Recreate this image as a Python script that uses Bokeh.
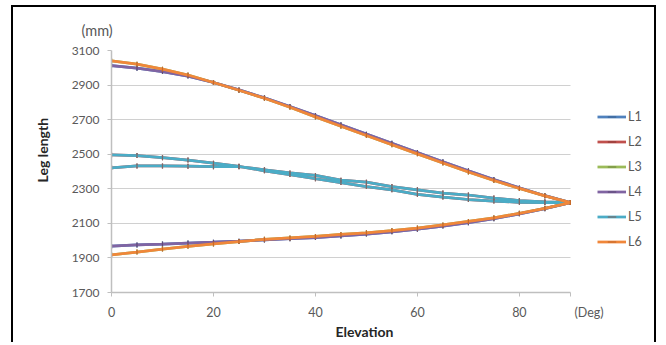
import math
from bokeh.plotting import figure
from bokeh.models import Range1d, FixedTicker, Legend, LegendItem, ColumnDataSource, Title
from bokeh.embed import file_html
from bokeh.resources import INLINE

# ---------------- data ----------------
ELEV = [0, 5, 10, 15, 20, 25, 30, 35, 40, 45, 50, 55, 60, 65, 70, 75, 80, 85, 90]

# each leg: branch read from 0->90 (upper) and branch read from 0->90 (lower); both meet at 90
L4_UPPER = [3013, 2998, 2978, 2952, 2915, 2872, 2826, 2776, 2724, 2670, 2616, 2563, 2510, 2456, 2404, 2354, 2305, 2260, 2220]
L4_LOWER = [1968, 1975, 1980, 1986, 1991, 1997, 2004, 2011, 2018, 2027, 2038, 2051, 2066, 2084, 2104, 2127, 2155, 2185, 2220]
L5_UPPER = [2496, 2492, 2480, 2466, 2448, 2430, 2404, 2382, 2358, 2336, 2313, 2294, 2268, 2252, 2238, 2229, 2222, 2220, 2220]
L5_LOWER = [2421, 2432, 2432, 2431, 2428, 2428, 2410, 2392, 2377, 2350, 2338, 2313, 2294, 2275, 2264, 2246, 2232, 2225, 2220]
L6_UPPER = [3040, 3021, 2992, 2958, 2915, 2870, 2824, 2772, 2716, 2662, 2608, 2555, 2502, 2449, 2397, 2348, 2302, 2259, 2220]
L6_LOWER = [1918, 1934, 1951, 1967, 1981, 1995, 2008, 2016, 2024, 2036, 2045, 2058, 2073, 2091, 2111, 2132, 2158, 2187, 2220]

# L1-L3 lie exactly under L4-L6
L1_UPPER, L1_LOWER = L4_UPPER, L4_LOWER
L2_UPPER, L2_LOWER = L5_UPPER, L5_LOWER
L3_UPPER, L3_LOWER = L6_UPPER, L6_LOWER

SERIES = ["L1", "L2", "L3", "L4", "L5", "L6"]
Y_TICKS = [1700, 1900, 2100, 2300, 2500, 2700, 2900, 3100]
X_TICKS = [0, 20, 40, 60, 80, 90]
X_LABELS = {90: "\u2003\u2003\u2003\u2003(Deg)"}
X_DATA_MAX = 90          # end of the elevation axis
X_VIEW_MAX = 106.5       # visible area continues to the right (legend space)

COLORS = ["#4F81BD", "#C0504D", "#9BBB59", "#8064A2", "#4BACC6", "#F0873A"]
MARK_COLORS = ["#3A6496", "#8E3A38", "#738C42", "#5E4A78", "#7A6A6A", "#C86A2A"]

UPPERS = [L1_UPPER, L2_UPPER, L3_UPPER, L4_UPPER, L5_UPPER, L6_UPPER]
LOWERS = [L1_LOWER, L2_LOWER, L3_LOWER, L4_LOWER, L5_LOWER, L6_LOWER]

FONT = "Lato"
TICK_COLOR = "#595959"
TITLE_COLOR = "#262626"

p = figure(frame_width=543, frame_height=242, output_backend="svg", toolbar_location=None,
           x_range=Range1d(0, X_VIEW_MAX), y_range=Range1d(1700, 3100),
           min_border_left=94, min_border_right=0, min_border_top=39, min_border_bottom=50)
p.styles = {"border-top": "2px solid #000000", "border-left": "2px solid #000000",
            "border-right": "2px solid #000000", "box-sizing": "content-box",
            "margin-left": "11px", "margin-top": "5px"}
p.outline_line_color = None
p.background_fill_color = "white"
p.border_fill_color = "white"

# axes
p.xaxis.ticker = FixedTicker(ticks=X_TICKS)
p.xaxis.major_label_overrides = X_LABELS
p.xaxis.bounds = (0, X_DATA_MAX)
p.yaxis.ticker = FixedTicker(ticks=Y_TICKS)
for ax in (p.xaxis[0], p.yaxis[0]):
    ax.axis_line_color = "#BFBFBF"
    ax.axis_line_width = 1.5
    ax.major_tick_line_color = "#BFBFBF"
    ax.major_tick_out = 4
    ax.major_tick_in = 0
    ax.minor_tick_line_color = None
    ax.major_label_text_font = FONT
    ax.major_label_text_font_size = "12px"
    ax.major_label_text_color = TICK_COLOR
    ax.major_label_standoff = 8
p.xaxis.major_label_text_font_size = "12.5px"
p.xgrid.grid_line_color = None
yg = p.ygrid[0]
if "cross_bounds" in yg.properties():
    yg.grid_line_color = "#D0D0D0"
    yg.grid_line_width = 1.2
    yg.cross_bounds = (0, X_DATA_MAX)
else:
    yg.grid_line_color = None
    p.segment(x0=[0] * len(Y_TICKS), x1=[X_DATA_MAX] * len(Y_TICKS), y0=Y_TICKS, y1=Y_TICKS,
              line_color="#D0D0D0", line_width=1.2, level="underlay")

items = []
for i, name in enumerate(SERIES):
    up, lo = UPPERS[i], LOWERS[i]
    xs = ELEV + ELEV[-2::-1]
    ys = up + lo[-2::-1]
    src = ColumnDataSource(dict(x=xs, y=ys))
    r_line = p.line("x", "y", source=src, line_color=COLORS[i], line_width=2.75)
    r_mark = p.scatter("x", "y", source=src, marker="dash", size=5, angle=math.pi / 2,
                       line_color=MARK_COLORS[i], line_width=1.2)
    items.append(LegendItem(label=name, renderers=[r_line, r_mark]))

legend = Legend(items=items, location=(486, 40), padding=0, margin=0,
                glyph_width=29, glyph_height=21, label_height=21, spacing=4,
                label_standoff=2, border_line_color=None, background_fill_alpha=0,
                label_text_font=FONT, label_text_font_size="12.5px", label_text_color=TICK_COLOR)
p.add_layout(legend, "center")

# titles / units
p.add_layout(Title(text="(mm)", align="left", offset=-30, standoff=24,
                   text_font=FONT, text_font_size="14.5px", text_font_style="normal",
                   text_color=TICK_COLOR), "above")
p.add_layout(Title(text="Elevation", align="left", offset=224, standoff=0, vertical_align="top",
                   text_font=FONT, text_font_size="14px", text_font_style="bold",
                   text_color=TITLE_COLOR), "below")
p.add_layout(Title(text="Leg length", align="left", offset=110, standoff=36,
                   text_font=FONT, text_font_size="14px", text_font_style="bold",
                   text_color=TITLE_COLOR), "left")

open("out.html", "w").write(file_html(p, INLINE))
